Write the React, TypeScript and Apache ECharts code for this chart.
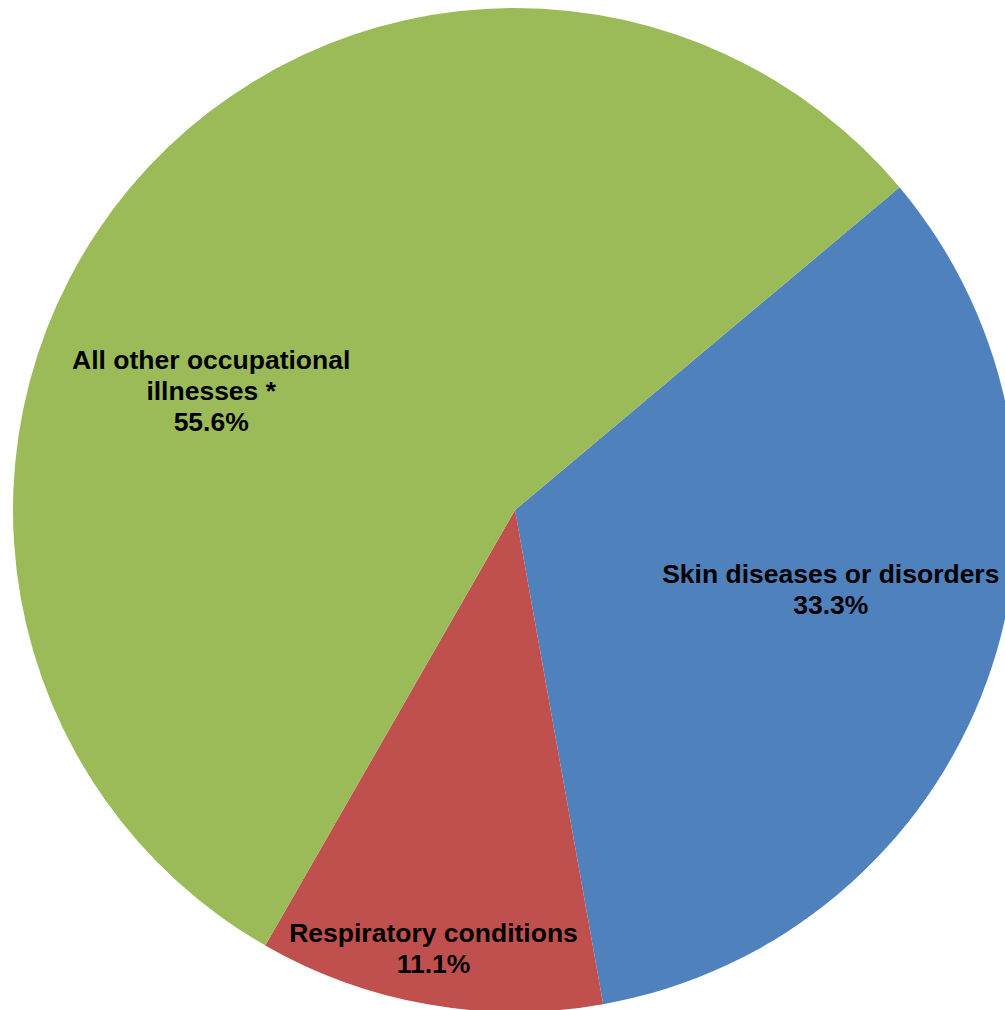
import React, { useEffect, useRef } from "react";
import * as echarts from "echarts";

const categories = [
  "Skin diseases or disorders",
  "Respiratory conditions",
  "All other occupational\nillnesses *",
];
const percentages = [33.3, 11.1, 55.6];
const colors = ["#4F81BD", "#C0504D", "#9BBB59"];
const labelOffsets = [
  [77, -7],
  [-38, 188],
  [-109, 44],
];

export default function App() {
  const ref = useRef<HTMLDivElement>(null);
  useEffect(() => {
    document.body.style.margin = "0";
    const chart = echarts.init(ref.current!, null, { renderer: "svg" });
    chart.setOption({
      animation: false,
      backgroundColor: "#ffffff",
      series: [
        {
          type: "pie",
          center: [515, 510],
          radius: [0, 502],
          startAngle: 40,
          clockwise: true,
          avoidLabelOverlap: false,
          itemStyle: { borderWidth: 0 },
          emphasis: { disabled: true },
          label: {
            show: true,
            position: "inside",
            color: "#000000",
            fontFamily: "'Liberation Sans', Arial, sans-serif",
            fontWeight: "bold",
            fontSize: 26.5,
            lineHeight: 31,
            align: "center",
            formatter: (p: any) => `${p.name}\n${p.value.toFixed(1)}%`,
          },
          labelLine: { show: false },
          data: categories.map((name, i) => ({
            name,
            value: percentages[i],
            itemStyle: { color: colors[i] },
            label: { offset: labelOffsets[i] },
          })),
        },
      ],
    });
    return () => chart.dispose();
  }, []);
  return (
    <div
      ref={ref}
      style={{ width: 1005, height: 1010, position: "absolute", left: 0, top: 0 }}
    />
  );
}
